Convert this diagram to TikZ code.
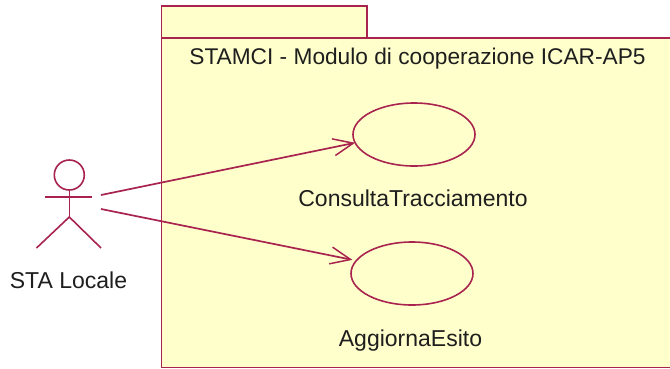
\documentclass[tikz,border=0pt]{standalone}
\usepackage{fontspec}
\setmainfont{Liberation Sans}
\usetikzlibrary{shapes.geometric,arrows.meta}
\definecolor{umlline}{HTML}{A8244F}
\definecolor{umlfill}{HTML}{FFFFCC}
\definecolor{umltext}{HTML}{1E1E1E}
\tikzset{
  umlstroke/.style={draw=umlline,line width=1.6pt},
  pkg/.style={umlstroke,fill=umlfill,line width=1.9pt},
  usecase/.style={umlstroke,ellipse,fill=umlfill,minimum width=122pt,minimum height=63pt,inner sep=0pt,outer sep=0pt},
  label/.style={text=umltext,font=\fontsize{23}{27}\selectfont,inner sep=0pt,anchor=base},
  assoc/.style={draw=umlline,line width=1.7pt,-{Straight Barb[length=20pt,width=17pt,line width=1.5pt]}},
}
\begin{document}
\begin{tikzpicture}[x=1pt,y=-1pt]
\useasboundingbox (0,0) rectangle (670,368);
\fill[white] (0,0) rectangle (670,368);
% package
\path[pkg] (161.5,6) rectangle (367,38);
\path[pkg] (161.5,38) -- (672,38) -- (672,367.5) -- (161.5,367.5) -- cycle;
\node[label,font=\fontsize{22.7}{27}\selectfont] (title) at (417.5,64) {STAMCI - Modulo di cooperazione ICAR-AP5};
% actor
\node[umlstroke,circle,minimum size=30pt,inner sep=0pt,outer sep=0pt] (head) at (69.3,175) {};
\coordinate (hip) at (69.3,217);
\coordinate (armL) at (45,197);
\coordinate (armR) at (92,197);
\coordinate (footL) at (36.5,248);
\coordinate (footR) at (101,248);
\draw[umlstroke] (head.south) -- (hip);
\draw[umlstroke] (armL) -- (armR);
\draw[umlstroke] (footL) -- (hip) -- (footR);
\node[label] (actor) at (68.5,288) {STA Locale};
% use cases
\node[usecase] (uc1) at (414,134.5) {};
\node[usecase] (uc2) at (412,273.5) {};
\node[label] (uc1t) at (413,206) {ConsultaTracciamento};
\node[label] (uc2t) at (410.5,346) {AggiornaEsito};
% associations
\coordinate (s1) at (101,195);
\coordinate (s2) at (101,209);
\draw[assoc] (s1) -- (uc1.188);
\draw[assoc,shorten >=4pt] (s2) -- (uc2.167);
\end{tikzpicture}
\end{document}
